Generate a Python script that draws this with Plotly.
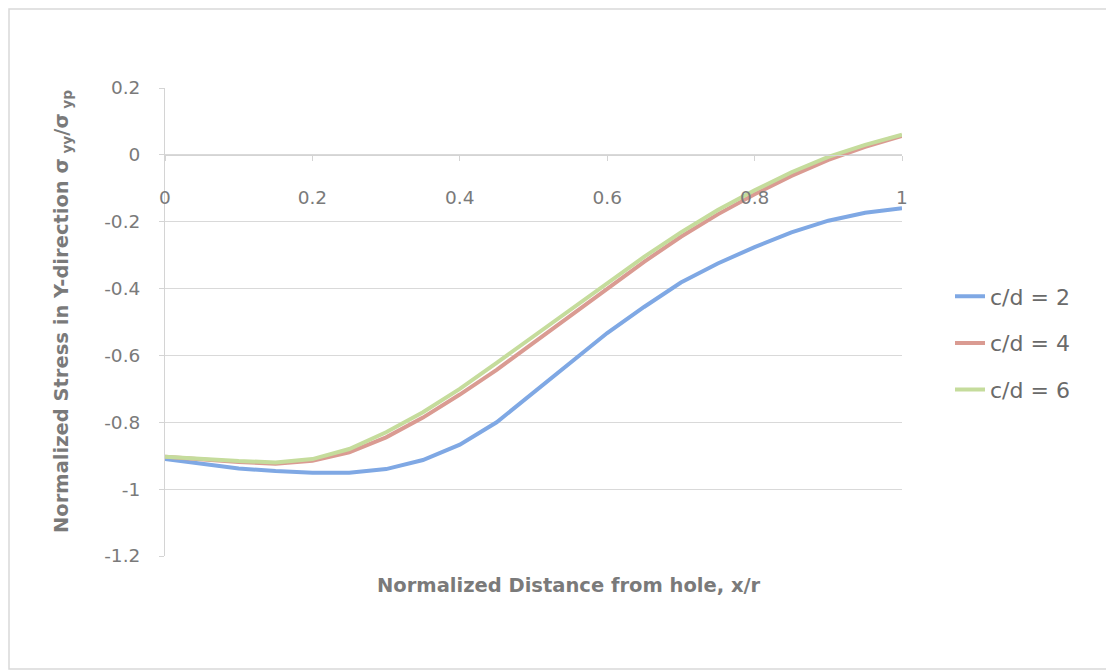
import plotly.graph_objects as go

x_vals = [0, 0.05, 0.1, 0.15, 0.2, 0.25, 0.3, 0.35, 0.4, 0.45, 0.5,
          0.55, 0.6, 0.65, 0.7, 0.75, 0.8, 0.85, 0.9, 0.95, 1.0]
cd2 = [-0.91, -0.925, -0.938, -0.946, -0.951, -0.951, -0.94, -0.913, -0.867, -0.80, -0.71,
       -0.62, -0.533, -0.455, -0.382, -0.325, -0.276, -0.232, -0.197, -0.173, -0.16]
cd4 = [-0.903, -0.912, -0.919, -0.924, -0.915, -0.89, -0.845, -0.786, -0.717, -0.643, -0.562,
       -0.481, -0.40, -0.32, -0.245, -0.178, -0.118, -0.063, -0.015, 0.024, 0.057]
cd6 = [-0.903, -0.911, -0.916, -0.92, -0.91, -0.88, -0.83, -0.77, -0.70, -0.622, -0.542,
       -0.462, -0.382, -0.305, -0.232, -0.165, -0.106, -0.052, -0.006, 0.03, 0.06]
series_names = ["c/d = 2", "c/d = 4", "c/d = 6"]
series_colors = ["#7FA8E4", "#DA9B92", "#C5DC9C"]
x_ticks = [0, 0.2, 0.4, 0.6, 0.8, 1]
x_ticklabels = ["0", "0.2", "0.4", "0.6", "0.8", "1"]
y_ticks = [0.2, 0, -0.2, -0.4, -0.6, -0.8, -1, -1.2]
y_ticklabels = ["0.2", "0", "-0.2", "-0.4", "-0.6", "-0.8", "-1", "-1.2"]

OFF = 8  # page offset of the figure in the browser
W, H = 1114 - OFF, 671 - OFF
L, R, T, B = 165 - OFF, 902 - OFF, 88 - OFF, 556 - OFF
pw, ph = R - L, B - T

def px_x(p):
    return (p - OFF - L) / pw

def px_y(p):
    return (B - (p - OFF)) / ph

gray = "#7a7a7a"
tick_font = dict(family="DejaVu Sans, sans-serif", size=18.5, color=gray)

fig = go.Figure()
for i, (name, ys) in enumerate(zip(series_names, [cd2, cd4, cd6])):
    fig.add_trace(go.Scatter(x=x_vals, y=ys, mode="lines", name=name,
                             legendgroup=name,
                             line=dict(color=series_colors[i], width=4)))

fig.update_layout(
    width=W, height=H,
    margin=dict(l=L, r=W - R, t=T, b=H - B),
    paper_bgcolor="white", plot_bgcolor="white",
    showlegend=True,
    legend=dict(x=px_x(950), xanchor="left", y=px_y(343), yanchor="middle",
                font=dict(family="DejaVu Sans, sans-serif", size=22, color="#6a6a6a"),
                tracegroupgap=15, bgcolor="rgba(0,0,0,0)"),
    xaxis=dict(range=[0, 1], tickvals=x_ticks, ticktext=x_ticklabels,
               anchor="free", position=(B - (155 - OFF)) / ph,
               showgrid=False, zeroline=False,
               showline=True, linecolor="#d4d4d4", linewidth=1,
               ticks="outside", ticklen=5, tickcolor="#d4d4d4",
               ticklabelstandoff=21,
               tickfont=tick_font),
    yaxis=dict(range=[-1.2, 0.2], tickvals=y_ticks, ticktext=y_ticklabels,
               showgrid=True, gridcolor="#d9d9d9", gridwidth=1,
               zeroline=False,
               showline=True, linecolor="#d4d4d4", linewidth=1,
               ticks="outside", ticklen=5, tickcolor="#d4d4d4",
               ticklabelstandoff=15,
               tickfont=tick_font),
)

title_font = dict(family="DejaVu Sans, sans-serif", size=19.5, color=gray)
fig.add_annotation(text="<b>Normalized Distance from hole, x/r</b>",
                   xref="paper", yref="paper", x=px_x(569), y=px_y(585),
                   showarrow=False, font=title_font, xanchor="center", yanchor="middle")
fig.add_annotation(text="<b>Normalized Stress in Y-direction σ<sub> yy</sub>/σ<sub> yp</sub></b>",
                   xref="paper", yref="paper", x=px_x(62), y=px_y(312),
                   showarrow=False, font=title_font, textangle=-90,
                   xanchor="center", yanchor="middle")

fig.add_shape(type="rect", xref="paper", yref="paper",
              x0=px_x(9), x1=px_x(1108), y0=px_y(669), y1=px_y(9),
              line=dict(color="#d9d9d9", width=1.5), fillcolor="rgba(0,0,0,0)", layer="below")

fig.write_html("out.html")
